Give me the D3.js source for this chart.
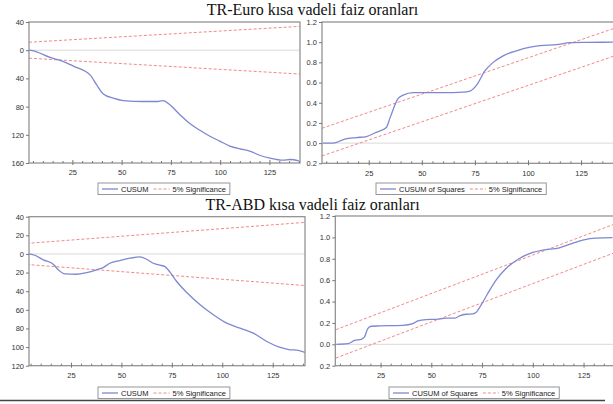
<!DOCTYPE html>
<html>
<head>
<meta charset="utf-8">
<script src="https://cdn.jsdelivr.net/npm/d3@7"></script>
<style>
  body { margin: 0; background: #fff; }
  svg { display: block; }
  .tick-label { font-family: "Liberation Sans", Arial, sans-serif; font-size: 7.5px; fill: #333; }
  .legend-text { font-family: "Liberation Sans", Arial, sans-serif; font-size: 7.5px; fill: #222; }
  .title { font-family: "Liberation Serif", "Times New Roman", serif; font-size: 16px; fill: #111; }
</style>
</head>
<body>
<script>
// ---- data ----
const titles = ["TR-Euro kısa vadeli faiz oranları", "TR-ABD kısa vadeli faiz oranları"];

const euroCusumT = [3.2, 6.9, 13.7, 19.6, 25.5, 34, 37.3, 40.7, 45.8, 50.8, 61, 67.8, 71.1, 74.5, 79.6, 84.6, 89.7, 94.8, 99.8, 104.9, 110, 115, 120, 125.2, 132, 135.3, 140];
const euroCusum = [0, -2.3, -10.3, -15, -22.5, -35, -49, -62, -68, -71.4, -72.8, -72.8, -71.4, -77.5, -91.5, -104, -113.6, -122, -129, -136, -140, -143, -149, -153, -156, -155, -157];

const euroSqT = [3.4, 8.2, 13.7, 19.2, 23.9, 27.8, 33.3, 35.2, 38.8, 41.2, 45.9, 50.6, 60, 69.5, 72.6, 75.8, 79.7, 83.6, 88.3, 94.6, 101, 105.7, 113.5, 119.8, 127.6, 140];
const euroSq = [0, 0, 0.04, 0.055, 0.065, 0.1, 0.155, 0.26, 0.44, 0.475, 0.5, 0.5, 0.5, 0.505, 0.515, 0.575, 0.715, 0.8, 0.865, 0.915, 0.95, 0.965, 0.975, 0.995, 0.998, 1.0];

const abdCusumT = [4.3, 7.1, 11.3, 16.2, 18.7, 22, 27.8, 32.8, 37.7, 41, 44.3, 49.3, 54.3, 59.2, 62.5, 65.8, 69.1, 71.6, 74.1, 77.4, 82.4, 89, 95.6, 102.2, 108.8, 115.4, 122.1, 128.7, 133.6, 137, 141];
const abdCusum = [0, -1.4, -6.4, -11, -17, -21.4, -21.8, -20, -17, -14.6, -10, -7.1, -4.6, -3.2, -5.7, -10, -12, -13.6, -19.6, -29.6, -41.4, -54.6, -65.3, -74.3, -79.6, -85, -94, -100.4, -102.9, -103.2, -105.7];

const abdSqT = [3.2, 8.9, 12.2, 15.5, 17.1, 18.7, 20.4, 24.5, 36, 40.9, 43.4, 47.4, 52.4, 57.3, 61.4, 63.9, 67.1, 70.4, 72, 74.5, 77.8, 81.9, 86.8, 93.4, 100, 104.9, 113.1, 118, 124.6, 131.1, 139.3];
const abdSq = [0, 0.006, 0.037, 0.047, 0.069, 0.147, 0.169, 0.172, 0.178, 0.194, 0.219, 0.231, 0.234, 0.244, 0.244, 0.266, 0.281, 0.284, 0.297, 0.366, 0.475, 0.6, 0.709, 0.803, 0.859, 0.881, 0.903, 0.934, 0.975, 0.994, 0.997];

// 5% significance bounds (straight lines, start and end)
const boundT = [3, 141];
const cusumUpper = [11.3, 33.9];
const cusumLower = [-11.3, -33.9];
const euroSqUpper = [0.147, 1.14];
const euroSqLower = [-0.127, 0.866];
const abdSqUpper = [0.137, 1.13];
const abdSqLower = [-0.128, 0.862];

const cusumTicks = [40, 0, -40, -80, -120, -160];
const abdCusumTicks = [40, 20, 0, -20, -40, -60, -80, -100, -120];
const sqTicks = [1.2, 1.0, 0.8, 0.6, 0.4, 0.2, 0.0, -0.2];
const xTicks = [25, 50, 75, 100, 125];

// ---- layout ----
const W = 613, H = 404;
const blue = "#7d88d0", red = "#f07a7a";

const svg = d3.select("body").append("svg")
    .attr("width", W)
    .attr("height", H);

const panels = [
    {t: euroCusumT, v: euroCusum, up: cusumUpper, lo: cusumLower, yDom: [-160, 40], yTicks: cusumTicks, fmt: d => String(Math.abs(d)),
     xDom: [3, 140.5], box: {l: 29, r: 300, t: 22, b: 163}, legend: {x: 98, y: 183, label: "CUSUM"}},
    {t: euroSqT, v: euroSq, up: euroSqUpper, lo: euroSqLower, yDom: [-0.2, 1.2], yTicks: sqTicks, fmt: d => Math.abs(d).toFixed(1),
     xDom: [3, 140.5], box: {l: 322, r: 614, t: 22, b: 163.3}, legend: {x: 376, y: 183, label: "CUSUM of Squares"}},
    {t: abdCusumT, v: abdCusum, up: cusumUpper, lo: cusumLower, yDom: [-120, 40], yTicks: abdCusumTicks, fmt: d => String(Math.abs(d)),
     xDom: [4.2, 141], box: {l: 29, r: 305, t: 216.7, b: 365.7}, legend: {x: 98, y: 387, label: "CUSUM"}},
    {t: abdSqT, v: abdSq, up: abdSqUpper, lo: abdSqLower, yDom: [-0.2, 1.2], yTicks: sqTicks, fmt: d => Math.abs(d).toFixed(1),
     xDom: [2.7, 140], box: {l: 335.3, r: 614, t: 216, b: 365.7}, legend: {x: 389, y: 387, label: "CUSUM of Squares"}}
];

// titles
svg.append("text").attr("class", "title")
    .attr("x", 312.5).attr("y", 15)
    .attr("text-anchor", "middle")
    .text(titles[0]);
svg.append("text").attr("class", "title")
    .attr("x", 312.5).attr("y", 209.5)
    .attr("text-anchor", "middle")
    .text(titles[1]);

panels.forEach((p, i) => drawPanel(p, i));

// rule under the figure
svg.append("line")
    .attr("x1", 0).attr("x2", 605)
    .attr("y1", 400.5).attr("y2", 400.5)
    .attr("stroke", "#444")
    .attr("stroke-width", 1.4);

function drawPanel(p, i) {
    const b = p.box;
    const x = d3.scaleLinear().domain(p.xDom).range([b.l, b.r]);
    const y = d3.scaleLinear().domain(p.yDom).range([b.b, b.t]);

    const g = svg.append("g");

    g.append("clipPath").attr("id", "clip" + i)
        .append("rect")
        .attr("x", b.l).attr("y", b.t)
        .attr("width", b.r - b.l).attr("height", b.b - b.t);

    // zero reference line
    g.append("line")
        .attr("x1", b.l).attr("x2", b.r)
        .attr("y1", y(0)).attr("y2", y(0))
        .attr("stroke", "#d9d9d9")
        .attr("stroke-width", 1);

    const plot = g.append("g").attr("clip-path", `url(#clip${i})`);

    const straight = d3.line().x(d => x(d[0])).y(d => y(d[1]));
    [p.up, p.lo].forEach(bound => {
        plot.append("path")
            .attr("d", straight(boundT.map((t, k) => [t, bound[k]])))
            .attr("fill", "none")
            .attr("stroke", red)
            .attr("stroke-width", 0.9)
            .attr("stroke-dasharray", "3,2");
    });

    const smooth = d3.line()
        .x(d => x(d[0]))
        .y(d => y(d[1]))
        .curve(d3.curveMonotoneX);
    plot.append("path")
        .attr("d", smooth(p.t.map((t, k) => [t, p.v[k]])))
        .attr("fill", "none")
        .attr("stroke", blue)
        .attr("stroke-width", 1.3);

    // frame
    g.append("rect")
        .attr("x", b.l).attr("y", b.t)
        .attr("width", b.r - b.l).attr("height", b.b - b.t)
        .attr("fill", "none")
        .attr("stroke", "#8a8a8a")
        .attr("stroke-width", 1.2);

    // y axis
    const yAxis = d3.axisLeft(y)
        .tickValues(p.yTicks)
        .tickSize(3)
        .tickPadding(2)
        .tickFormat(p.fmt);
    const ya = g.append("g")
        .attr("transform", `translate(${b.l},0)`)
        .call(yAxis);
    ya.select(".domain").remove();
    ya.selectAll(".tick line").attr("stroke", "#777");
    ya.selectAll(".tick text").attr("class", "tick-label").attr("font-size", null).attr("font-family", null);

    // x axis: minor ticks every 5 units, major labelled ticks
    const minor = d3.range(5, 141, 5).filter(t => t >= p.xDom[0] && t <= p.xDom[1] && !xTicks.includes(t));
    const xMinor = d3.axisBottom(x).tickValues(minor).tickSize(-2).tickFormat("");
    const xm = g.append("g").attr("transform", `translate(0,${b.b})`).call(xMinor);
    xm.select(".domain").remove();
    xm.selectAll(".tick line").attr("stroke", "#777");

    const xAxis = d3.axisBottom(x).tickValues(xTicks).tickSizeInner(-3).tickSizeOuter(0).tickPadding(7);
    const xa = g.append("g").attr("transform", `translate(0,${b.b})`).call(xAxis);
    xa.select(".domain").remove();
    xa.selectAll(".tick line").attr("stroke", "#777").attr("y2", 2).attr("y1", -3);
    xa.selectAll(".tick text").attr("class", "tick-label").attr("font-size", null).attr("font-family", null);

    drawLegend(p.legend);
}

function drawLegend(L) {
    const lg = svg.append("g").attr("transform", `translate(${L.x},${L.y})`);
    const box = lg.append("rect")
        .attr("y", 0).attr("height", 11.5)
        .attr("fill", "#fff")
        .attr("stroke", "#8a8a8a")
        .attr("stroke-width", 0.9);

    let cx = 4;
    const items = [
        {label: L.label, color: blue, dash: null, w: 1.3},
        {label: "5% Significance", color: red, dash: "3,2", w: 0.9}
    ];
    items.forEach((it, k) => {
        lg.append("line")
            .attr("x1", cx).attr("x2", cx + 16)
            .attr("y1", 6).attr("y2", 6)
            .attr("stroke", it.color)
            .attr("stroke-width", it.w)
            .attr("stroke-dasharray", it.dash);
        cx += 19;
        const tx = lg.append("text")
            .attr("class", "legend-text")
            .attr("x", cx).attr("y", 8.7)
            .text(it.label);
        cx += tx.node().getComputedTextLength() + (k === 0 ? 5 : 4);
    });
    box.attr("width", cx);
}
</script>
</body>
</html>
